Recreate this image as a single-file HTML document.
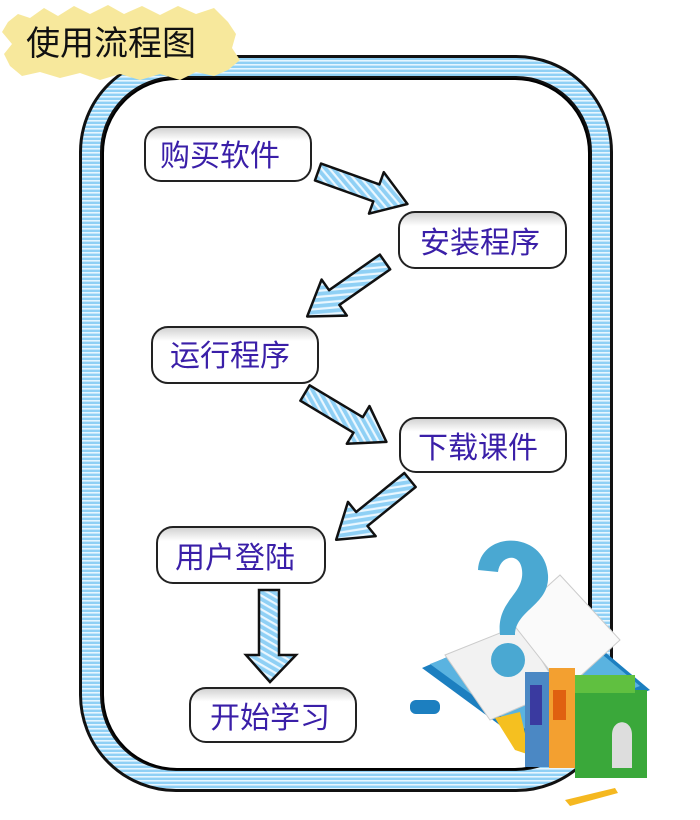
<!DOCTYPE html>
<html><head><meta charset="utf-8"><style>
html,body{margin:0;padding:0;background:#fff;}
svg{display:block;}
.t{font-family:"Liberation Sans","Noto Sans CJK SC",sans-serif;font-size:30px;fill:#3a1fa8;}
</style></head><body>
<svg width="700" height="820" viewBox="0 0 700 820" xmlns="http://www.w3.org/2000/svg">
<defs>
<pattern id="st" width="6" height="4" patternUnits="userSpaceOnUse">
<rect width="6" height="4" fill="#8fd0f5"/><rect width="6" height="1.6" fill="#e6f6ff"/>
</pattern>
<pattern id="sd" width="6" height="6" patternUnits="userSpaceOnUse" patternTransform="rotate(30)">
<rect width="6" height="6" fill="#8fd0f5"/><rect width="6" height="2.2" fill="#eaf7ff"/>
</pattern>
<linearGradient id="bx" x1="0" y1="0" x2="0" y2="1">
<stop offset="0" stop-color="#cfcfcf"/><stop offset="0.25" stop-color="#fff"/><stop offset="1" stop-color="#fff"/>
</linearGradient>
<g id="arr"><polygon points="0,-9 62,-9 62,-22 95,0 62,22 62,9 0,9" fill="url(#sd)" stroke="#111" stroke-width="2.5" stroke-linejoin="round"/></g>
</defs>

<!-- frame -->
<rect x="91" y="67" width="510" height="713" rx="85" fill="none" stroke="#111" stroke-width="24"/>
<rect x="91" y="67" width="510" height="713" rx="85" fill="none" stroke="url(#st)" stroke-width="18"/>
<rect x="103" y="79" width="486" height="690" rx="74" fill="#fff" stroke="#000" stroke-width="2"/>

<!-- title -->
<path d="M8,22 L18,14 L30,18 L44,8 L58,16 L74,6 L90,14 L108,5 L124,14 L142,6 L160,15 L178,6 L196,14 L214,8 L228,22 L236,34 L232,48 L240,60 L228,70 L214,76 L196,72 L180,80 L160,74 L140,80 L120,74 L100,80 L80,73 L60,78 L40,72 L22,76 L10,66 L4,54 L12,44 L2,32 Z" fill="#f7e89c"/>
<text x="26" y="55" font-family="Liberation Sans,Noto Sans CJK SC,sans-serif" font-size="34" fill="#111">使用流程图</text>

<!-- boxes -->
<g stroke="#222" stroke-width="2">
<rect x="145" y="127" width="166" height="54" rx="16" fill="url(#bx)"/>
<rect x="399" y="212" width="167" height="56" rx="16" fill="url(#bx)"/>
<rect x="152" y="327" width="166" height="56" rx="16" fill="url(#bx)"/>
<rect x="400" y="418" width="166" height="54" rx="16" fill="url(#bx)"/>
<rect x="157" y="527" width="168" height="56" rx="16" fill="url(#bx)"/>
<rect x="190" y="688" width="166" height="54" rx="16" fill="url(#bx)"/>
</g>
<text class="t" x="160" y="166">购买软件</text>
<text class="t" x="420" y="253">安装程序</text>
<text class="t" x="170" y="366">运行程序</text>
<text class="t" x="418" y="458">下载课件</text>
<text class="t" x="175" y="568">用户登陆</text>
<text class="t" x="210" y="728">开始学习</text>

<!-- arrows -->
<use href="#arr" transform="translate(318,172) rotate(19.7)"/>
<use href="#arr" transform="translate(385,262) rotate(145)"/>
<use href="#arr" transform="translate(305,393) rotate(31)"/>
<use href="#arr" transform="translate(410,480) rotate(141)"/>
<polygon points="259,590 279,590 279,655 296,655 270,682 246,655 259,655" fill="url(#sd)" stroke="#111" stroke-width="2.5"/>

<!-- clipart -->
<g>
<polygon points="422,668 555,610 650,690 520,740" fill="#1c7fc0"/>
<polygon points="430,664 555,615 640,686 520,730" fill="#5ab3e0"/>
<rect x="410" y="700" width="30" height="14" rx="6" fill="#1c7fc0"/>
<polygon points="445,655 520,625 560,690 490,720" fill="#f2f2f2" stroke="#ccc"/>
<polygon points="510,620 560,575 620,640 565,690" fill="#fafafa" stroke="#ccc"/>
<polygon points="495,718 520,712 530,755 515,750" fill="#f5c020"/>
<path d="M478,570 C480,530 545,530 548,575 C550,605 515,610 515,635 L500,635 C496,600 525,595 522,570 C520,552 500,555 498,572 Z" fill="#4aa8d2"/>
<circle cx="508" cy="660" r="17" fill="#4aa8d2"/>
<rect x="525" y="672" width="24" height="95" fill="#4b88c4"/>
<rect x="530" y="685" width="12" height="40" fill="#3a3aa0"/>
<rect x="549" y="668" width="26" height="100" fill="#f3a030"/>
<rect x="553" y="690" width="13" height="30" fill="#e06010"/>
<rect x="575" y="690" width="72" height="88" fill="#3aa83a"/>
<rect x="575" y="675" width="60" height="18" fill="#60c040"/>
<path d="M612,768 L612,735 C612,718 632,718 632,735 L632,768 Z" fill="#ddd"/>
<polygon points="565,800 615,788 618,793 570,806" fill="#f5b820"/>
</g>
</svg>
</body></html>
